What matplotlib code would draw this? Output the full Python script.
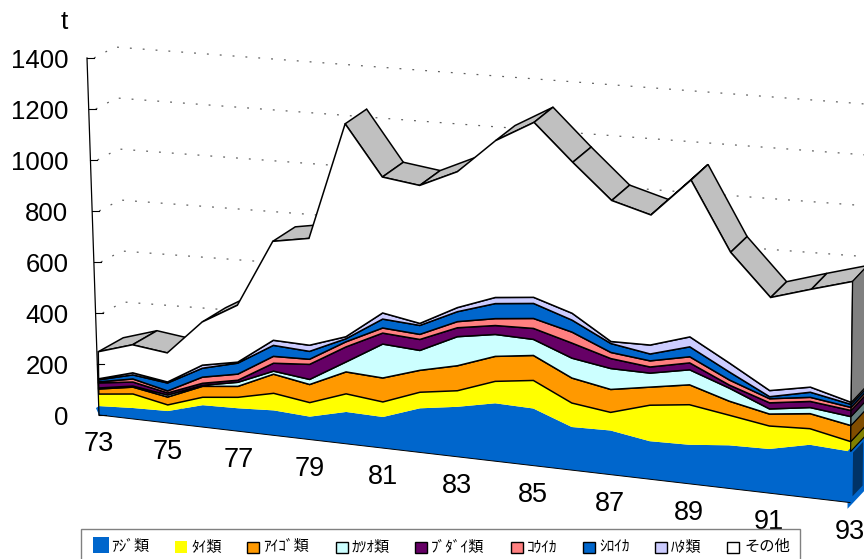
import matplotlib
matplotlib.use("Agg")
import matplotlib.pyplot as plt
import numpy as np
from matplotlib.patches import Rectangle

# catch per year, t (stacked from the front plane of the old 3D area chart)
years = list(range(73, 94))
aji = [35, 43, 47, 86, 90, 98, 90, 125, 122, 173, 196, 227, 224, 169, 173, 149, 153, 169, 173, 208, 200]
tai = [47, 55, 24, 31, 43, 67, 55, 71, 59, 63, 63, 86, 110, 94, 71, 141, 157, 118, 90, 63, 39]
aigo = [20, 27, 31, 43, 43, 75, 71, 86, 94, 86, 98, 98, 98, 98, 90, 71, 78, 55, 47, 59, 63]
katsuo = [4, 4, 8, 4, 16, 12, 20, 39, 133, 78, 114, 86, 63, 78, 82, 55, 59, 51, 20, 24, 35]
butadai = [20, 16, 8, 8, 8, 31, 59, 59, 43, 43, 35, 35, 43, 59, 39, 24, 27, 12, 24, 24, 24]
kouika = [4, 12, 8, 24, 24, 27, 20, 20, 20, 20, 24, 27, 39, 43, 24, 24, 24, 20, 16, 16, 12]
shiroika = [8, 16, 31, 35, 43, 43, 31, 12, 35, 35, 39, 59, 59, 47, 35, 27, 39, 31, 8, 20, 12]
hata = [4, 8, 4, 12, 4, 20, 24, 8, 24, 8, 16, 24, 24, 27, 8, 35, 39, 35, 24, 20, 8]
sonota = [106, 110, 114, 169, 223, 388, 419, 835, 533, 541, 533, 615, 686, 592, 553, 510, 615, 435, 365, 384, 474]

series = [aji, tai, aigo, katsuo, butadai, kouika, shiroika, hata, sonota]
names = ["ｱｼﾞ類", "ﾀｲ類", "ｱｲｺﾞ類", "ｶﾂｵ類", "ﾌﾞﾀﾞｲ類", "ｺｳｲｶ", "ｼﾛｲｶ", "ﾊﾀ類", "その他"]
colors = ["#0066CC", "#FFFF00", "#FF9900", "#CCFFFF", "#660066", "#FF8080", "#0066CC", "#CCCCFF", "#FFFFFF"]
yticks = [0, 200, 400, 600, 800, 1000, 1200, 1400]

SCALE = 0.255  # px per t


# 3D look of the chart: slanted floor, slight perspective
def project(i, v):
    i = np.asarray(i, dtype=float)
    h = np.asarray(v, dtype=float) * SCALE
    x = 99 + 34.13 * i + 0.171 * i**2
    y = 415 + 0.1166 * (x - 99)
    return x + h * (-0.012 + 0.0012 * i), y - h


def depth(i):
    return 25 - 0.5 * i, -14 - 0.1 * i


def darker(c):
    r, g, b = matplotlib.colors.to_rgb(c)
    return (r * 0.5, g * 0.5, b * 0.5)


fig = plt.figure(figsize=(8.64, 5.59), dpi=100)
ax = fig.add_axes([0, 0, 1, 1])
ax.set_xlim(0, 864)
ax.set_ylim(559, 0)
ax.axis("off")

idx = np.arange(len(years))
last = idx[-1]
tops = np.cumsum(series, axis=0)

# value axis and dotted walls
for v in yticks:
    px = 99 - 0.0336 * v * SCALE
    py = 415 - v * SCALE
    ax.plot([px, px + 7], [py, py], color="black", lw=0.8, zorder=6)
    ax.text(68.5, py + 3, str(v), ha="right", va="center", fontsize=18.5, family="Liberation Sans")
    ax.plot([px + 7, px + 28, 900], [py, py - 11, py - 11 + 0.076 * (900 - px - 28)],
            color="#606060", lw=0.9, linestyle=(0, (1.5, 8.8)), zorder=1)
ax.plot([99 - 0.0336 * 1400 * SCALE, 99], [415 - 1400 * SCALE, 415], color="black", lw=0.9, zorder=6)
ax.text(64, 22, "t", ha="center", va="center", fontsize=19, family="Liberation Sans")

# grey top surface of the last series
tx, ty = project(idx, tops[-1])
for i in idx[:-1]:
    ox1, oy1 = depth(i)
    ox2, oy2 = depth(i + 1)
    sx, sy = tx[i + 1] - tx[i], ty[i + 1] - ty[i]
    if sx * oy1 - sy * ox1 < 0:
        ax.fill([tx[i], tx[i + 1], tx[i + 1] + ox2, tx[i] + ox1],
                [ty[i], ty[i + 1], ty[i + 1] + oy2, ty[i] + oy1],
                facecolor="#C0C0C0", edgecolor="black", lw=1.1, zorder=2)

# stacked areas, front faces
lower = np.zeros(len(years))
ox, oy = depth(last)
for n, (vals, name, col) in enumerate(zip(series, names, colors)):
    upper = lower + np.array(vals)
    ux, uy = project(idx, upper)
    lx, ly = project(idx, lower)
    edge = "none" if n < 2 else "black"
    ax.fill(np.r_[ux, lx[::-1]], np.r_[uy, ly[::-1]], facecolor=col, edgecolor=edge, lw=1.1,
            joinstyle="miter", zorder=3 + 0.01 * n)
    # right hand side face
    side = "#808080" if n == len(series) - 1 else darker(col)
    if n == 0:
        ax.fill([lx[-1], lx[-1] + ox, ux[-1] + ox, ux[-1]], [ly[-1], ly[-1] + oy, uy[-1] + oy, uy[-1]],
                facecolor="#003366", edgecolor="#0066CC", lw=3.5, zorder=4)
        # sliver of the same face on the left end
        ax.fill([lx[0] - 3, lx[0], ux[0]], [uy[0] + 2, ly[0], uy[0]], facecolor=col, edgecolor="none", zorder=3)
    else:
        ax.fill([lx[-1], lx[-1] + ox, ux[-1] + ox, ux[-1]], [ly[-1], ly[-1] + oy, uy[-1] + oy, uy[-1]],
                facecolor=side, edgecolor="black", lw=0.8, zorder=4)
    lower = upper

bx, by = project(idx, np.zeros(len(years)))
ax.plot(bx, by, color="black", lw=0.7, zorder=5)

# year labels, every second one
for i in idx[::2]:
    ax.text(bx[i], by[i] + 29, str(years[i]), ha="center", va="center", fontsize=19.5,
            family="Liberation Sans", zorder=7)

# legend box runs off the bottom of the picture
ax.add_patch(Rectangle((81, 529), 719, 40, facecolor="white", edgecolor="#808080", lw=1.0, zorder=8))
swatch_x = [93, 175, 247, 336, 415, 511, 583, 655, 727]
swatch_w = [16, 12, 11.5, 11.5, 11.5, 11.5, 11.5, 11.5, 11.5]
label_x = [111, 191, 263, 352, 431, 527, 599, 671, 744]
for n, (name, col) in enumerate(zip(names, colors)):
    edge = "none" if n < 2 else "black"
    ax.add_patch(Rectangle((swatch_x[n], 553 - swatch_w[n]), swatch_w[n], swatch_w[n], facecolor=col,
                           edgecolor=edge, lw=1.0, zorder=9))
    ax.text(label_x[n], 546.5, name, ha="left", va="center", fontsize=11, zorder=9,
            family=["Noto Sans CJK JP", "DejaVu Sans"])

fig.savefig("out.png", dpi=100)
